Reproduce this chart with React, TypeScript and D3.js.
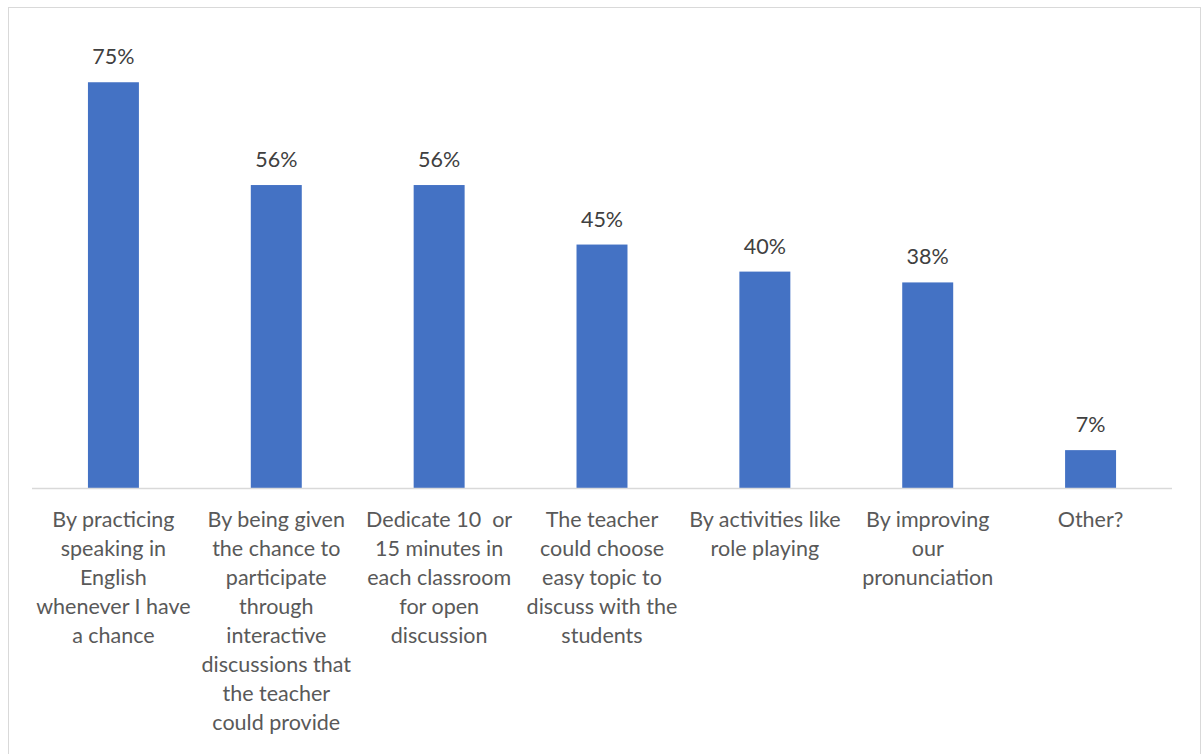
import React from "react";
import * as d3 from "d3";

const categories: string[][] = [
  ["By practicing", "speaking in", "English", "whenever I have", "a chance"],
  ["By being given", "the chance to", "participate", "through", "interactive", "discussions that", "the teacher", "could provide"],
  ["Dedicate 10  or", "15 minutes in", "each classroom", "for open", "discussion"],
  ["The teacher", "could choose", "easy topic to", "discuss with the", "students"],
  ["By activities like", "role playing"],
  ["By improving", "our", "pronunciation"],
  ["Other?"],
];
const values: number[] = [75, 56, 56, 45, 40, 38, 7];

const W = 1202;
const H = 754;
const font = "Lato, 'Open Sans', sans-serif";

export default function App() {
  const x = d3
    .scaleBand<number>()
    .domain(values.map((_, i) => i))
    .range([32, 1172])
    .paddingInner(0.687)
    .paddingOuter(0.3435);
  const y = d3.scaleLinear().domain([0, 80]).range([488, 55.2]);

  return (
    <svg
      width={W}
      height={H}
      style={{ position: "absolute", left: 0, top: 0, background: "#fff" }}
    >
      <rect x={8.5} y={7.5} width={1192} height={760} fill="#fff" stroke="#d9d9d9" strokeWidth={1} />
      {values.map((v, i) => (
        <rect
          key={"b" + i}
          x={x(i)!}
          y={y(v)}
          width={x.bandwidth()}
          height={y(0) - y(v)}
          fill="#4472c4"
        />
      ))}
      <line x1={32} x2={1172} y1={488.5} y2={488.5} stroke="#d9d9d9" strokeWidth={1.5} />
      {values.map((v, i) => (
        <text
          key={"v" + i}
          x={x(i)! + x.bandwidth() / 2}
          y={y(v) - 18}
          textAnchor="middle"
          fontFamily={font}
          fontSize={21.5}
          fill="#404040"
        >
          {v + "%"}
        </text>
      ))}
      {categories.map((lines, i) => (
        <text
          key={"c" + i}
          x={x(i)! + x.bandwidth() / 2}
          y={527}
          textAnchor="middle"
          fontFamily={font}
          fontSize={21.5}
          fill="#595959"
        >
          {lines.map((l, j) => (
            <tspan key={j} x={x(i)! + x.bandwidth() / 2} dy={j === 0 ? 0 : 29} style={{ whiteSpace: "pre" }}>
              {l}
            </tspan>
          ))}
        </text>
      ))}
    </svg>
  );
}
